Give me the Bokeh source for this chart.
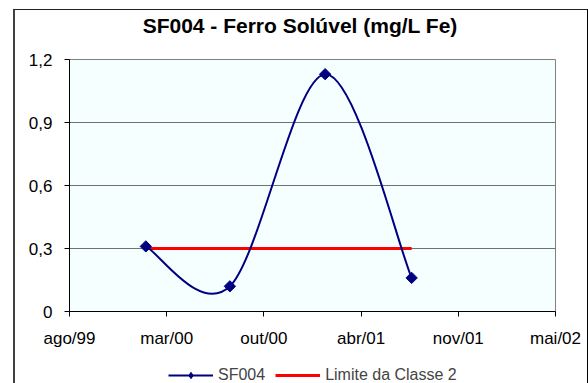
import numpy as np
import pandas as pd
from bokeh.plotting import figure
from bokeh.layouts import column
from bokeh.models import FixedTicker, Legend, LegendItem, InlineStyleSheet, Div
from bokeh.embed import file_html
from bokeh.resources import INLINE

# ---- data ----
sample_dates = ["2000-02-01", "2000-07-23", "2001-02-04", "2001-08-01"]
sf004_values = [0.31, 0.12, 1.13, 0.16]
limit_dates = ["2000-02-01", "2001-08-01"]
limit_values = [0.3, 0.3]
x_tick_dates = ["1999-08-28", "2000-03-15", "2000-10-01", "2001-04-19", "2001-11-05", "2002-05-24"]
x_tick_labels = ["ago/99", "mar/00", "out/00", "abr/01", "nov/01", "mai/02"]
y_ticks = [0, 0.3, 0.6, 0.9, 1.2]
y_tick_labels = ["0", "0,3", "0,6", "0,9", "1,2"]
title_text = "SF004 - Ferro Solúvel (mg/L Fe)"
series_names = ["SF004", "Limite da Classe 2"]

EPOCH = pd.Timestamp("1899-12-30")


def serial(ds):
    return [int((pd.Timestamp(d) - EPOCH).days) for d in ds]


xs = np.array(serial(sample_dates), dtype=float)
ys = np.array(sf004_values, dtype=float)
lx = serial(limit_dates)
xt = serial(x_tick_dates)

# smoothed line (Catmull-Rom style Bezier control points, like Excel's smoothing)
n = len(xs)
px = np.concatenate([[xs[0]], xs, [xs[-1]]])
py = np.concatenate([[ys[0]], ys, [ys[-1]]])
bx0, by0 = px[1:n], py[1:n]
bx1, by1 = px[2:n + 1], py[2:n + 1]
cx0 = bx0 + (px[2:n + 1] - px[0:n - 1]) / 6.0
cy0 = by0 + (py[2:n + 1] - py[0:n - 1]) / 6.0
cx1 = bx1 - (px[3:n + 2] - px[1:n]) / 6.0
cy1 = by1 - (py[3:n + 2] - py[1:n]) / 6.0

FONT = "Liberation Sans"
NAVY = "#000080"
RED = "#FF0000"

# ---- title ----
title = Div(text=('<div style="display:block;box-sizing:content-box;width:576px;'
                  'padding-top:14px;padding-left:12px;text-align:center;'
                  "font-family:'Liberation Sans';font-weight:bold;font-size:21px;"
                  'line-height:24px;color:#000;white-space:nowrap;">' + title_text + '</div>'),
            width=588, height=40, margin=0)

# ---- main chart ----
p = figure(title=None, frame_width=486, frame_height=252, output_backend="svg",
           toolbar_location=None, x_range=(xt[0], xt[-1]), y_range=(0, 1.2),
           min_border_left=69, min_border_right=33, min_border_top=19, min_border_bottom=45,
           background_fill_color="#F5FFFF", border_fill_color="white", margin=0)

xaxis = p.below[0]
yaxis = p.left[0]

p.outline_line_color = "#808080"
p.xgrid.visible = False
p.ygrid.ticker = FixedTicker(ticks=y_ticks)
p.ygrid.grid_line_color = "#707070"

xaxis.ticker = FixedTicker(ticks=xt)
xaxis.major_label_overrides = dict(zip(xt, x_tick_labels))
yaxis.ticker = FixedTicker(ticks=y_ticks)
yaxis.major_label_overrides = dict(zip(y_ticks, y_tick_labels))

for ax in (xaxis, yaxis):
    ax.major_tick_in = 0
    ax.major_tick_out = 5
    ax.minor_tick_line_color = None
    ax.axis_line_color = "black"
    ax.major_tick_line_color = "black"
    ax.major_label_text_font = FONT
    ax.major_label_text_font_size = "17px"
    ax.major_label_text_color = "black"
yaxis.major_label_standoff = 12
xaxis.major_label_standoff = 12

p.line(lx, limit_values, line_color=RED, line_width=3)
p.bezier(x0=bx0, y0=by0, x1=bx1, y1=by1, cx0=cx0, cy0=cy0, cx1=cx1, cy1=cy1,
         line_color=NAVY, line_width=2)
p.scatter(xs, ys, marker="square", size=8, angle=np.pi / 4,
          fill_color=NAVY, line_color=NAVY)

# ---- legend strip (own small figure so it can sit below the axis labels) ----
lg = figure(width=588, height=27, output_backend="svg", toolbar_location=None,
            x_range=(0, 1), y_range=(0, 1), x_axis_location=None, y_axis_location=None,
            min_border=0, outline_line_color=None, background_fill_color="white",
            border_fill_color="white", margin=0)
lg.xgrid.visible = False
lg.ygrid.visible = False
k_line = lg.line(x=[-5, -4], y=[-5, -5], line_color=NAVY, line_width=2)
k_mark = lg.scatter(x=[-5], y=[-5], marker="diamond", size=13,
                    fill_color=NAVY, line_color=NAVY)
k_red = lg.line(x=[-5, -4], y=[-5, -5], line_color=RED, line_width=3)
legend = Legend(items=[LegendItem(label=series_names[0], renderers=[k_line, k_mark]),
                       LegendItem(label=series_names[1], renderers=[k_red])],
                orientation="horizontal", location=(99, -1),
                glyph_width=45, glyph_height=16, label_height=16,
                label_standoff=5, spacing=10,
                padding=0, margin=0, border_line_color=None, background_fill_alpha=0,
                label_text_font=FONT, label_text_font_size="16px")
lg.add_layout(legend)

layout = column(title, p, lg, spacing=0)
layout.stylesheets = [InlineStyleSheet(css="""
:host { position: relative; }
:host::after {
  content: ''; position: absolute; left: 13px; top: 9px; width: 575px; height: 374px;
  box-sizing: border-box; pointer-events: none;
  border-left: 2px solid #404040; border-top: 1px solid #202020; border-right: 1px solid #000;
}
""")]

open("out.html", "w").write(file_html(layout, INLINE))
